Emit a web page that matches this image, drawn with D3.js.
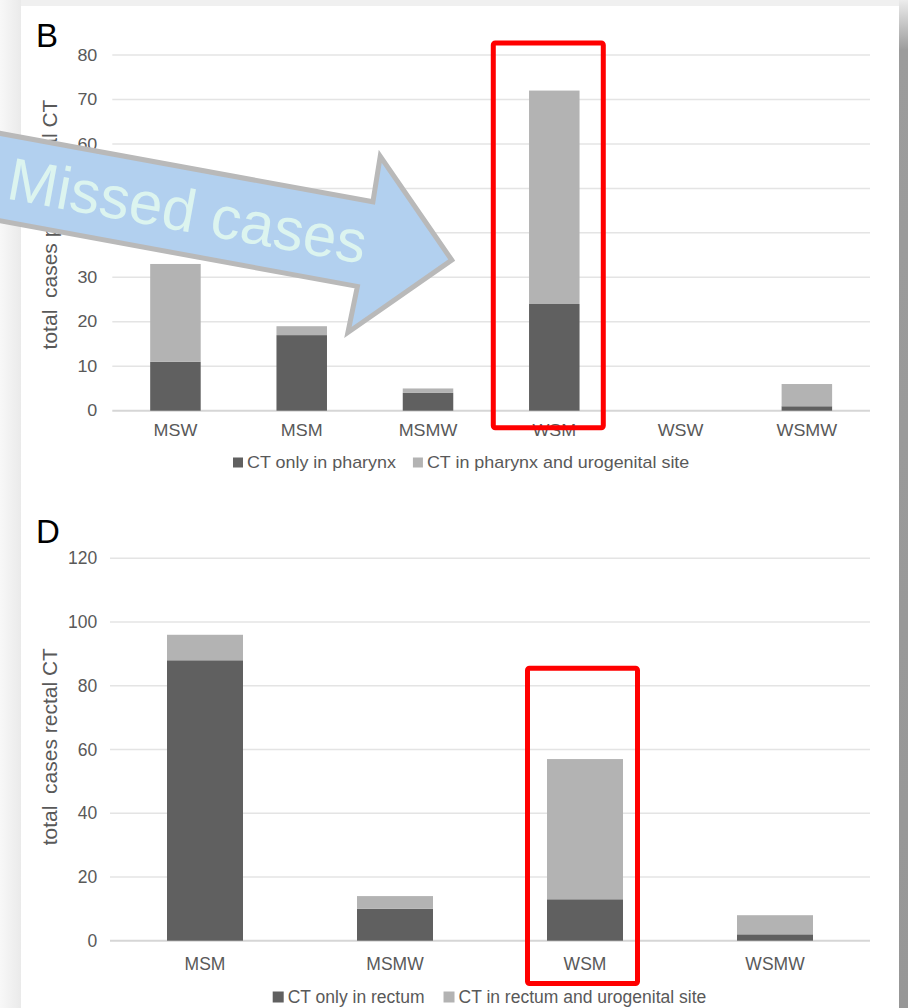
<!DOCTYPE html>
<html>
<head>
<meta charset="utf-8">
<script src="https://cdn.jsdelivr.net/npm/d3@7"></script>
<style>
  html, body { margin: 0; padding: 0; background: #f1f1f1; }
  svg { display: block; }
  text { font-family: "Liberation Sans", Arial, Helvetica, sans-serif; }
</style>
</head>
<body>
<svg id="fig" width="908" height="1008"></svg>
<script>
// Panel B: pharyngeal CT by sexual-network group
const categoriesB = ["MSW", "MSM", "MSMW", "WSM", "WSW", "WSMW"];
const pharynxOnly = [11, 17, 4, 24, 0, 1];
const pharynxAndUrogenital = [22, 2, 1, 48, 0, 5];
const ticksB = [0, 10, 20, 30, 40, 50, 60, 70, 80];
const legendB = ["CT only in pharynx", "CT in pharynx and urogenital site"];
const titleB = "total  cases pharyngeal CT";

// Panel D: rectal CT by sexual-network group
const categoriesD = ["MSM", "MSMW", "WSM", "WSMW"];
const rectumOnly = [88, 10, 13, 2];
const rectumAndUrogenital = [8, 4, 44, 6];
const ticksD = [0, 20, 40, 60, 80, 100, 120];
const legendD = ["CT only in rectum", "CT in rectum and urogenital site"];
const titleD = "total  cases rectal CT";

const seriesColors = ["#606060", "#b3b3b3"];
const textColor = "#595959";

const svg = d3.select("#fig");

// page backdrop and card
const defs = svg.append("defs");
const lg = defs.append("linearGradient").attr("id", "leftShade").attr("x1", 0).attr("x2", 1).attr("y1", 0).attr("y2", 0);
lg.append("stop").attr("offset", 0).attr("stop-color", "#f8f8f8");
lg.append("stop").attr("offset", 1).attr("stop-color", "#eaeaea");
const rg = defs.append("linearGradient").attr("id", "rightShade").attr("x1", 0).attr("x2", 0).attr("y1", 0).attr("y2", 1);
rg.append("stop").attr("offset", 0).attr("stop-color", "#ececec");
rg.append("stop").attr("offset", 0.05).attr("stop-color", "#9c9c9c");
rg.append("stop").attr("offset", 1).attr("stop-color", "#979797");

svg.append("rect").attr("width", 908).attr("height", 1008).attr("fill", "#f0f0f0");
svg.append("rect").attr("x", 0).attr("y", 0).attr("width", 21).attr("height", 1008).attr("fill", "url(#leftShade)");
svg.append("rect").attr("x", 899).attr("y", 0).attr("width", 9).attr("height", 1008).attr("fill", "url(#rightShade)");
svg.append("rect").attr("x", 21).attr("y", 6).attr("width", 878).attr("height", 1002).attr("fill", "#ffffff");

function drawPanel(cfg) {
  const g = svg.append("g");
  const x = d3.scaleBand().domain(cfg.categories).range(cfg.xRange).paddingInner(0.6).paddingOuter(0.3);
  const y = d3.scaleLinear().domain(cfg.yDomain).range(cfg.yRange);
  const sx = cfg.stretch;

  // gridlines
  g.append("g").selectAll("line").data(cfg.ticks).join("line")
    .attr("x1", cfg.xRange[0]).attr("x2", cfg.xRange[1])
    .attr("y1", d => y(d)).attr("y2", d => y(d))
    .attr("stroke", d => d === 0 ? "#d6d6d6" : "#e4e4e4")
    .attr("stroke-width", d => d === 0 ? 2 : 1.5);

  // y tick labels
  const yAxis = g.append("g").attr("transform", `translate(${cfg.tickRight},0)`)
    .call(d3.axisLeft(y).tickValues(cfg.ticks).tickSize(0).tickPadding(0).tickFormat(d3.format("d")));
  yAxis.select(".domain").remove();
  yAxis.selectAll("text")
    .attr("fill", textColor).style("font-size", cfg.fontSize + "px")
    .attr("transform", `scale(${sx},1)`);

  // stacked bars
  const rows = cfg.categories.map((c, i) => ({ cat: c, a: cfg.seriesA[i], b: cfg.seriesB[i] }));
  const stacked = d3.stack().keys(["a", "b"])(rows);
  g.append("g").selectAll("g").data(stacked).join("g")
    .attr("fill", (d, i) => seriesColors[i])
    .selectAll("rect").data(d => d).join("rect")
    .attr("x", d => x(d.data.cat))
    .attr("width", x.bandwidth())
    .attr("y", d => y(d[1]))
    .attr("height", d => y(d[0]) - y(d[1]));

  // category labels
  const xAxis = g.append("g").attr("transform", `translate(0,${cfg.xLabelBaseline})`)
    .call(d3.axisBottom(x).tickSize(0).tickPadding(0));
  xAxis.select(".domain").remove();
  xAxis.selectAll("text")
    .attr("y", 0).attr("dy", 0)
    .attr("fill", textColor).style("font-size", cfg.fontSize + "px")
    .attr("transform", `scale(${sx},1)`);

  // y title
  g.append("text")
    .attr("transform", `translate(${cfg.titleX},${cfg.titleY}) rotate(-90)`)
    .attr("text-anchor", "middle")
    .attr("fill", textColor)
    .style("font-size", "21px")
    .style("white-space", "pre")
    .text(cfg.title);

  // panel letter
  g.append("text")
    .attr("x", 36).attr("y", cfg.letterY)
    .attr("fill", "#000")
    .style("font-size", "33px")
    .text(cfg.letter);

  // legend
  let lx = cfg.legendX;
  cfg.legend.forEach((label, i) => {
    g.append("rect")
      .attr("x", lx).attr("y", cfg.legendBaseline - cfg.legendSwatch)
      .attr("width", cfg.legendSwatch).attr("height", cfg.legendSwatch)
      .attr("fill", seriesColors[i]);
    const t = g.append("text")
      .attr("transform", `translate(${lx + cfg.legendSwatch + 4},${cfg.legendBaseline}) scale(${sx},1)`)
      .attr("fill", textColor)
      .style("font-size", cfg.fontSize + "px")
      .text(label);
    lx += cfg.legendSwatch + 4 + t.node().getComputedTextLength() * sx + cfg.legendGap;
  });

  // highlight box around the emphasised category
  const hc = x(cfg.highlight) + x.bandwidth() / 2;
  g.append("rect")
    .attr("x", hc + cfg.boxDx).attr("y", cfg.boxTop)
    .attr("width", 110).attr("height", cfg.boxBottom - cfg.boxTop)
    .attr("rx", 2).attr("ry", 2)
    .attr("fill", "none").attr("stroke", "#ff0000").attr("stroke-width", 5);

  return { x, y };
}

drawPanel({
  categories: categoriesB, seriesA: pharynxOnly, seriesB: pharynxAndUrogenital,
  ticks: ticksB, yDomain: [0, 80], yRange: [410.7, 55], xRange: [112.3, 870],
  tickRight: 97.3, fontSize: 16, stretch: 1.12, xLabelBaseline: 436,
  title: titleB, titleX: 56.5, titleY: 224.5, letter: "B", letterY: 46.5,
  legend: legendB, legendX: 233, legendBaseline: 467.5, legendSwatch: 10, legendGap: 17,
  highlight: "WSM", boxDx: -61, boxTop: 43, boxBottom: 427.7
});

drawPanel({
  categories: categoriesD, seriesA: rectumOnly, seriesB: rectumAndUrogenital,
  ticks: ticksD, yDomain: [0, 120], yRange: [940.7, 558.3], xRange: [110, 870],
  tickRight: 97.3, fontSize: 17.5, stretch: 1.0, xLabelBaseline: 970,
  title: titleD, titleX: 56.5, titleY: 746.7, letter: "D", letterY: 542.5,
  legend: legendD, legendX: 272.7, legendBaseline: 1002.5, legendSwatch: 11, legendGap: 19,
  highlight: "WSM", boxDx: -57.5, boxTop: 668.2, boxBottom: 983.5
});

// "Missed cases" call-out arrow across panel B
const arrow = svg.append("g").attr("transform", "translate(451.7,260) rotate(10.4)");
const arrowPts = [[0, 0], [-89, -89], [-88, -43], [-540, -43], [-540, 43], [-88, 43], [-89, 90]];
arrow.append("path")
  .attr("d", d3.line()(arrowPts) + "Z")
  .attr("fill", "#b2d0ef")
  .attr("stroke", "#b9b9b9")
  .attr("stroke-width", 5)
  .attr("stroke-linejoin", "miter");
arrow.append("text")
  .attr("x", -87).attr("y", 20)
  .attr("text-anchor", "end")
  .attr("fill", "#dcf4ef")
  .style("font-size", "60px")
  .text("Missed cases");
</script>
</body>
</html>
